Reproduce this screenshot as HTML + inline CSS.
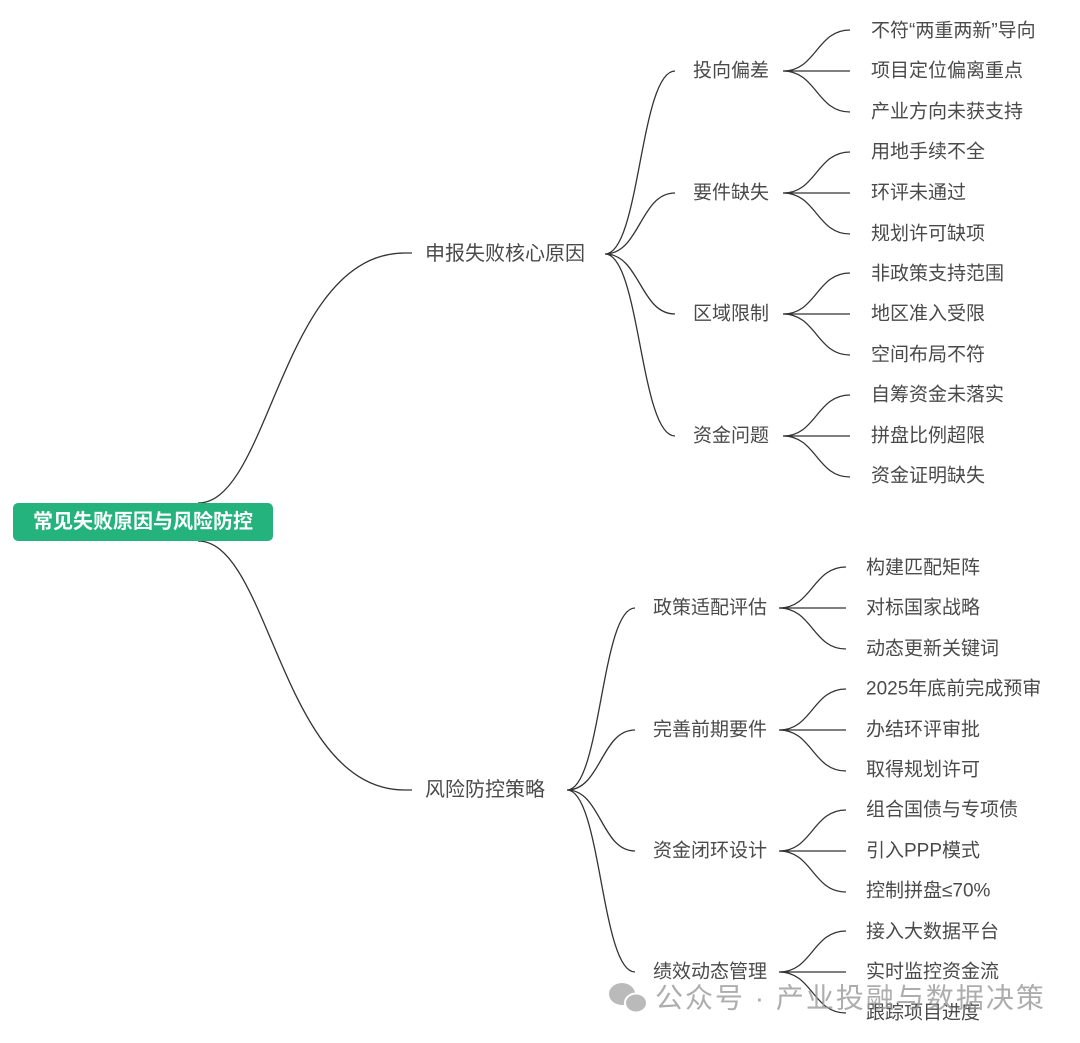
<!DOCTYPE html>
<html><head><meta charset="utf-8"><style>
html,body{margin:0;padding:0;background:#fff;width:1080px;height:1043px;overflow:hidden}
svg{display:block}
text{font-family:"Liberation Sans","Noto Sans CJK SC",sans-serif;font-size:19px;fill:#4a4a4a;dominant-baseline:central}
</style></head><body>
<svg id="s" width="1080" height="1043" viewBox="0 0 1080 1043">
<g id="lines" fill="none" stroke="#333" stroke-width="1.3"></g>
<rect x="13" y="503" width="260" height="38" rx="5" fill="#25b37d"/>
<text x="143" y="522" text-anchor="middle" style="fill:#fff;font-weight:bold;font-size:20px">常见失败原因与风险防控</text>
<text x="425" y="254" style="font-size:20px">申报失败核心原因</text>
<text x="425" y="790" style="font-size:20px">风险防控策略</text>
<text x="693" y="71">投向偏差</text>
<text x="693" y="193">要件缺失</text>
<text x="693" y="314">区域限制</text>
<text x="693" y="436">资金问题</text>
<text x="871" y="31">不符“两重两新”导向</text>
<text x="871" y="71">项目定位偏离重点</text>
<text x="871" y="112">产业方向未获支持</text>
<text x="871" y="152">用地手续不全</text>
<text x="871" y="193">环评未通过</text>
<text x="871" y="234">规划许可缺项</text>
<text x="871" y="274">非政策支持范围</text>
<text x="871" y="314">地区准入受限</text>
<text x="871" y="355">空间布局不符</text>
<text x="871" y="395">自筹资金未落实</text>
<text x="871" y="436">拼盘比例超限</text>
<text x="871" y="476">资金证明缺失</text>
<text x="653" y="608">政策适配评估</text>
<text x="653" y="730">完善前期要件</text>
<text x="653" y="851">资金闭环设计</text>
<text x="653" y="972">绩效动态管理</text>
<text x="866" y="568">构建匹配矩阵</text>
<text x="866" y="608">对标国家战略</text>
<text x="866" y="649">动态更新关键词</text>
<text x="866" y="689">2025年底前完成预审</text>
<text x="866" y="730">办结环评审批</text>
<text x="866" y="770">取得规划许可</text>
<text x="866" y="810">组合国债与专项债</text>
<text x="866" y="851">引入PPP模式</text>
<text x="866" y="891">控制拼盘≤70%</text>
<text x="866" y="932">接入大数据平台</text>
<text x="866" y="972">实时监控资金流</text>
<text x="866" y="1013">跟踪项目进度</text>
<g opacity="0.8">
<ellipse cx="622" cy="994" rx="13" ry="11" fill="#aaa"/>
<ellipse cx="636" cy="1003" rx="11" ry="9.5" fill="#aaa" stroke="#fff" stroke-width="2"/>
<text x="655" y="998" style="fill:#999;font-size:28px;letter-spacing:2px">公众号 · 产业投融与数据决策</text>
</g>
</svg>
<script>
var g=document.getElementById('lines'),d='';
function c(x1,y1,x2,y2){var m=(x1+x2)/2;d+='M'+x1+' '+y1+'C'+m+' '+y1+' '+m+' '+y2+' '+x2+' '+y2;}
function c2(x1,y1,x2,y2){d+='M'+x1+' '+y1+'C'+(x1+(x2-x1)*0.35)+' '+y1+' '+(x1+(x2-x1)*0.4)+' '+y2+' '+x2+' '+y2;}
c2(198,503,405,253);c2(198,541,405,790);
d+='M405 253H412M405 790H412';
[71,193,314,436].forEach(function(y){c(605,254,675,y);[-41,0,41].forEach(function(o){c(783,y,850,y+o);});});
[608,730,851,972].forEach(function(y){c(567,790,635,y);[-41,0,41].forEach(function(o){c(779,y,846,y+o);});});
var p=document.createElementNS('http://www.w3.org/2000/svg','path');p.setAttribute('d',d);g.appendChild(p);
</script>
</body></html>
